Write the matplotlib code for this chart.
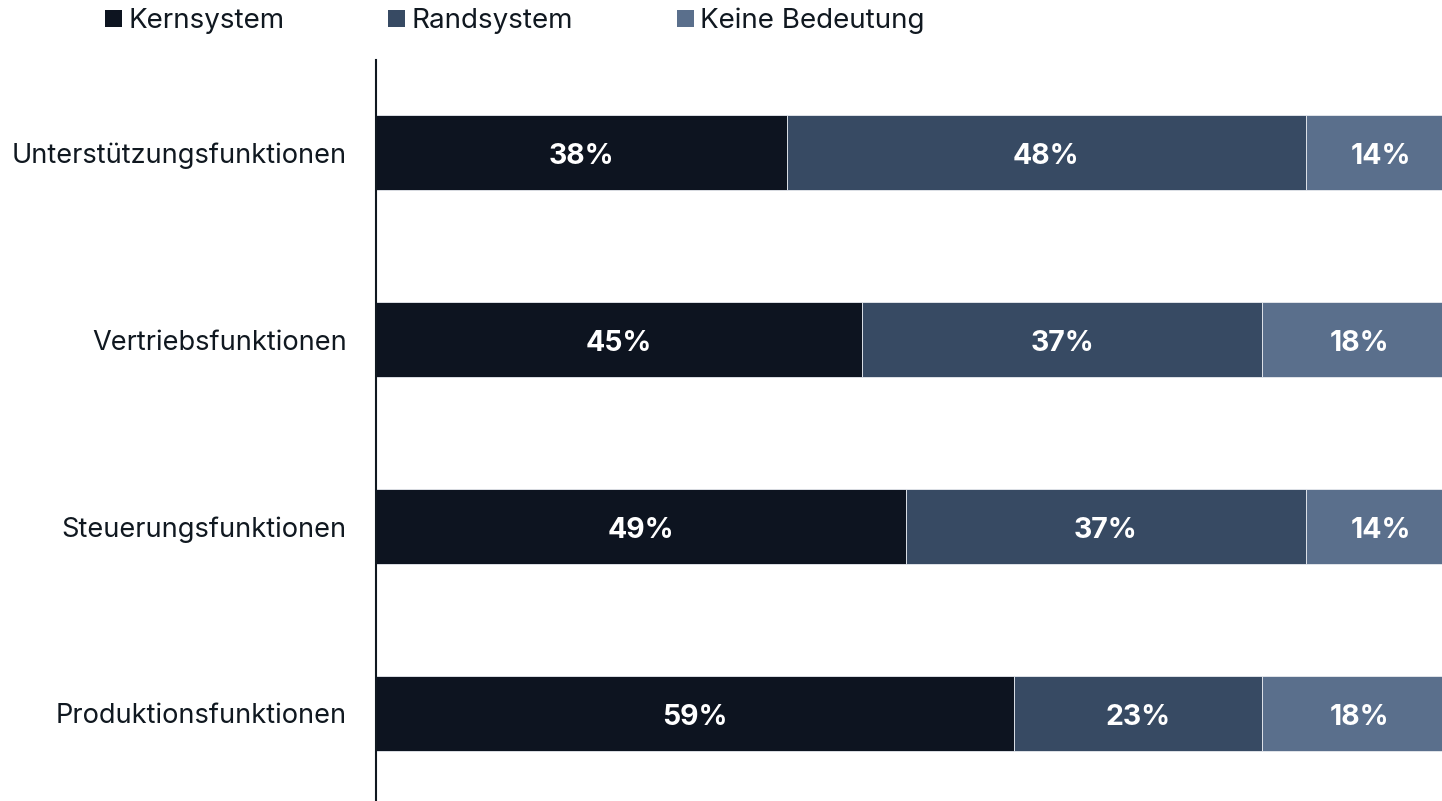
import matplotlib
matplotlib.use("Agg")
import matplotlib.pyplot as plt
import numpy as np

plt.rcParams['font.family'] = ['Inter', 'DejaVu Sans']

categories = ["Unterstützungsfunktionen", "Vertriebsfunktionen", "Steuerungsfunktionen", "Produktionsfunktionen"]
series_names = ["Kernsystem", "Randsystem", "Keine Bedeutung"]
kern = [38, 45, 49, 59]
rand = [48, 37, 37, 23]
keine = [14, 18, 14, 18]
colors = ["#0d1420", "#374a63", "#5a6f8c"]
text_color = "#101820"

W, H = 1442, 801
fig = plt.figure(figsize=(W / 100, H / 100), dpi=100)
ax = fig.add_axes([376 / W, 0, 1081 / W, 1 - 60 / H])

y = np.arange(len(categories))
left = np.zeros(len(categories))
handles = []
for name, vals, col in zip(series_names, [kern, rand, keine], colors):
    vals = np.array(vals, dtype=float)
    b = ax.barh(y, vals, left=left, height=0.4, color=col, edgecolor="#e8ebf0",
                linewidth=0.6, label=name)
    handles.append(b)
    for yi, l, v in zip(y, left, vals):
        ax.text(l + v / 2, yi + 0.022, f"{int(v)}%", ha="center", va="center",
                color="white", fontsize=20.5, fontweight="bold")
    left += vals

ax.set_xlim(0, 100)
ax.set_ylim(3.468, -0.495)
ax.set_yticks(y)
ax.set_yticklabels(categories, fontsize=19.6, color=text_color)
ax.tick_params(axis="y", length=0, pad=21)
ax.set_xticks([])
for s in ["top", "right", "bottom"]:
    ax.spines[s].set_visible(False)
ax.spines["left"].set_color(text_color)
ax.spines["left"].set_linewidth(1.5)

leg = fig.legend(handles=handles, labels=series_names, loc="center left",
                 bbox_to_anchor=(105 / W, 1 - 21 / H), ncol=3, frameon=False,
                 fontsize=20, handlelength=0.61, handleheight=0.61,
                 handletextpad=0.22, columnspacing=3.75, borderaxespad=0,
                 borderpad=0)
for t in leg.get_texts():
    t.set_color(text_color)
for p in leg.get_patches():
    p.set_edgecolor("none")

fig.savefig("out.png", dpi=100)
